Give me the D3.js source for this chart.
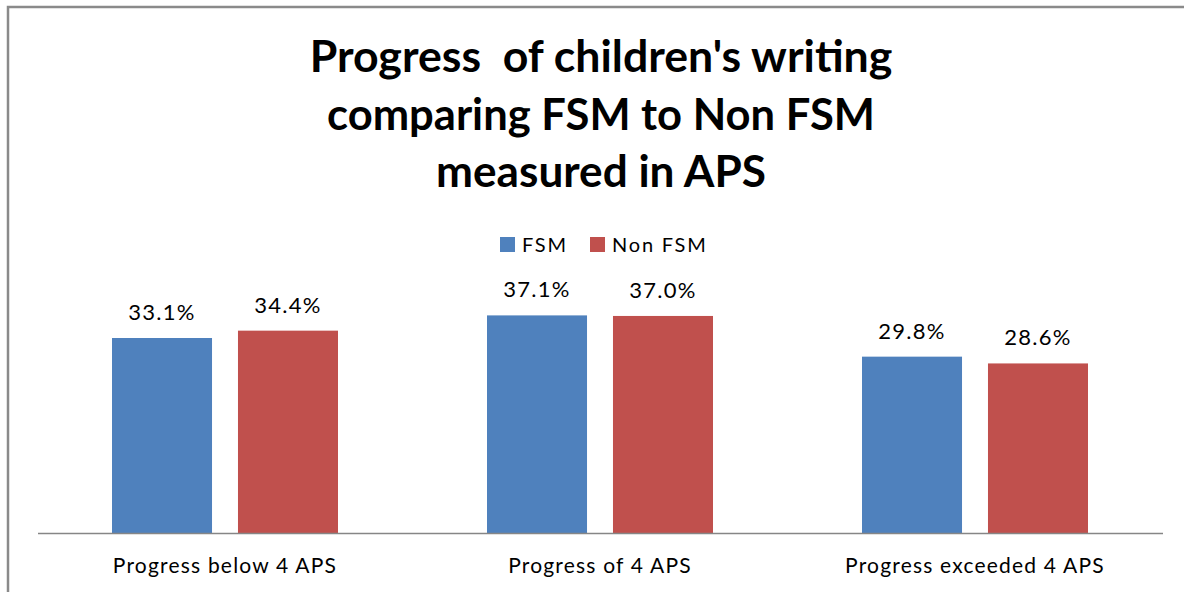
<!DOCTYPE html>
<html><head><meta charset="utf-8">
<script src="https://cdn.jsdelivr.net/npm/d3@7"></script>
<style>body{margin:0;background:#fff}svg{display:block}</style>
</head><body>
<svg id="c" width="1184" height="592"></svg>
<script>
const categories = ["Progress below 4 APS", "Progress of 4 APS", "Progress exceeded 4 APS"];
const seriesNames = ["FSM", "Non FSM"];
const fsmValues = [33.1, 37.1, 29.8];
const nonFsmValues = [34.4, 37.0, 28.6];
const titleLines = ["Progress  of children's writing", "comparing FSM to Non FSM", "measured in APS"];
const colors = ["#4F81BD", "#C0504D"];

const svg = d3.select("#c");
const font = "Lato, 'Open Sans', sans-serif";

// frame
svg.append("path").attr("d","M8,600 V7 H1190").attr("fill","none").attr("stroke","#8a8a8a").attr("stroke-width",2.5);

// title
const tl = [72, 130, 187];
const tw = [583, 548, 330];
titleLines.forEach((t,i)=>{
  const el = svg.append("text").attr("x",601).attr("y",tl[i]).attr("text-anchor","middle")
    .attr("font-family",font).attr("font-weight","bold").attr("font-size",40).attr("fill","#000")
    .style("white-space","pre").text(t);
  const w = el.node().getComputedTextLength();
  el.attr("font-size", 40*tw[i]/w);
});

// scales
const x0 = d3.scaleBand().domain(categories).range([37.5,1162.5]).paddingInner(0).paddingOuter(0);
const x1 = d3.scaleBand().domain(seriesNames).range([74.5, 375-74.5]).paddingInner(0.206);
const y = d3.scaleLinear().domain([-1.4,40]).range([533, 299]);
const base = y.range()[0];

const data = categories.map((c,i)=>({cat:c, vals:[fsmValues[i], nonFsmValues[i]]}));

const g = svg.append("g");
data.forEach(d=>{
  d.vals.forEach((v,j)=>{
    const bx = x0(d.cat) + x1(seriesNames[j]);
    g.append("rect").attr("x",bx).attr("y",y(v)).attr("width",x1.bandwidth()).attr("height",base-y(v)).attr("fill",colors[j]);
    g.append("text").attr("x",bx + x1.bandwidth()/2).attr("y",y(v)-18).attr("text-anchor","middle")
      .attr("font-family",font).attr("font-size",22).attr("letter-spacing",1.3).attr("fill","#000").text(v.toFixed(1)+"%");
  });
});

// axis
const axis = d3.axisBottom(x0).tickSize(0).tickPadding(0);
const ax = svg.append("g").attr("transform","translate(0,"+base+")").call(axis);
ax.select(".domain").attr("stroke","#868686").attr("stroke-width",1.5);
ax.selectAll(".tick text").attr("font-family",font).attr("font-size",21).attr("letter-spacing",1.2).attr("fill","#000").attr("dy",null).attr("y",40);

// legend
const leg = svg.append("g");
const lx = [500, 590];
seriesNames.forEach((s,j)=>{
  leg.append("rect").attr("x",lx[j]).attr("y",237).attr("width",15).attr("height",15).attr("fill",colors[j]);
  leg.append("text").attr("x",lx[j]+22).attr("y",252).attr("font-family",font).attr("font-size",20).attr("letter-spacing",1.8).attr("fill","#000").text(s);
});
</script>
</body></html>
